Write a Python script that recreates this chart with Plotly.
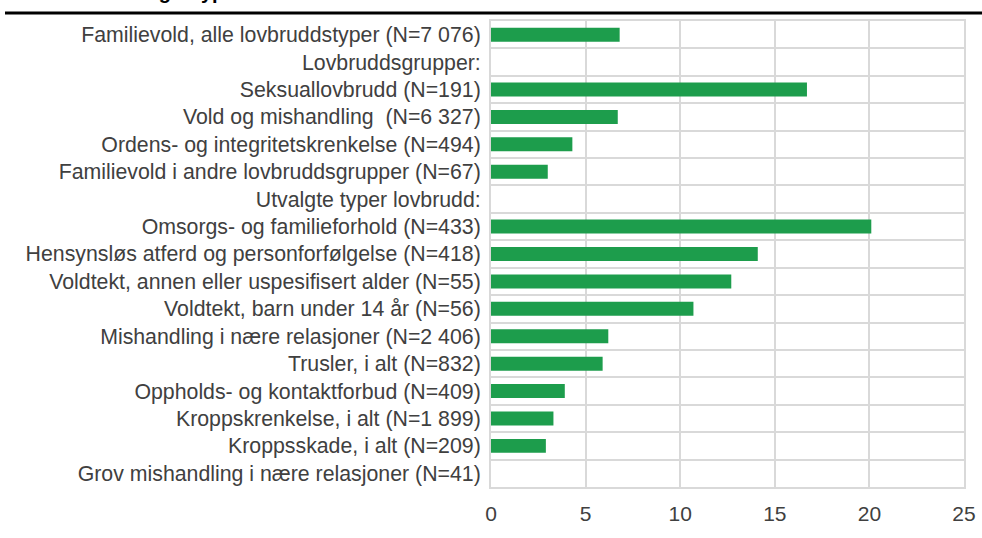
import plotly.graph_objects as go

categories = [
    "Familievold, alle lovbruddstyper (N=7 076)",
    "Lovbruddsgrupper:",
    "Seksuallovbrudd (N=191)",
    "Vold og mishandling  (N=6 327)",
    "Ordens- og integritetskrenkelse (N=494)",
    "Familievold i andre lovbruddsgrupper (N=67)",
    "Utvalgte typer lovbrudd:",
    "Omsorgs- og familieforhold (N=433)",
    "Hensynsløs atferd og personforfølgelse (N=418)",
    "Voldtekt, annen eller uspesifisert alder (N=55)",
    "Voldtekt, barn under 14 år (N=56)",
    "Mishandling i nære relasjoner (N=2 406)",
    "Trusler, i alt (N=832)",
    "Oppholds- og kontaktforbud (N=409)",
    "Kroppskrenkelse, i alt (N=1 899)",
    "Kroppsskade, i alt (N=209)",
    "Grov mishandling i nære relasjoner (N=41)",
]
values = [6.8, None, 16.7, 6.7, 4.3, 3.0, None, 20.1, 14.1, 12.7, 10.7, 6.2, 5.9, 3.9, 3.3, 2.9, None]
x_ticks = [0, 5, 10, 15, 20, 25]
title_text = "utvalgte typer lovbrudd. Prosent"

W, H = 982, 538
ml, mr, mt, mb = 491, 18, 21, 51
pw = W - ml - mr
ph = H - mt - mb

font_family = "Liberation Sans, Arial, sans-serif"
text_color = "#404040"
grid_color = "#d9d9d9"
fs = 21.3

fig = go.Figure(go.Bar(
    x=values, y=categories, orientation="h",
    marker=dict(color="#1d9d4c", line=dict(width=0)),
    width=0.51,
))

fig.update_layout(
    width=W, height=H,
    margin=dict(l=ml, r=mr, t=mt, b=mb, pad=0, autoexpand=False),
    paper_bgcolor="white", plot_bgcolor="white",
    font=dict(family=font_family, size=fs, color=text_color),
    showlegend=False,
    xaxis=dict(
        range=[0, 25], tickvals=x_ticks, ticktext=[str(v) for v in x_ticks],
        showgrid=True, gridcolor=grid_color, gridwidth=2,
        showline=True, linecolor=grid_color, linewidth=2, mirror=True,
        zeroline=False, ticks="", ticklabelstandoff=7, automargin=False,
        tickfont=dict(size=21, color=text_color),
    ),
    yaxis=dict(
        type="category", autorange="reversed",
        showgrid=True, gridcolor=grid_color, gridwidth=2, tickson="boundaries",
        showline=True, linecolor=grid_color, linewidth=2, mirror=True,
        zeroline=False, ticks="", ticklabelstandoff=4, automargin=False,
        tickfont=dict(size=fs, color=text_color),
    ),
)

fig.add_annotation(
    text="<b>" + title_text + "</b>", showarrow=False,
    xref="paper", yref="paper",
    x=(110 - ml) / pw, y=(H - mb - 5) / ph,
    xanchor="left", yanchor="bottom",
    font=dict(size=20, color="#000000", family=font_family),
)
fig.add_shape(
    type="line", xref="paper", yref="paper",
    x0=(5 - ml) / pw, x1=(W - ml) / pw,
    y0=(H - mb - 13) / ph, y1=(H - mb - 13) / ph,
    line=dict(color="black", width=3),
)

fig.write_html(
    "out.html",
    config={"displayModeBar": False},
    post_script="document.body.style.margin='0';document.body.style.overflow='hidden';",
)
